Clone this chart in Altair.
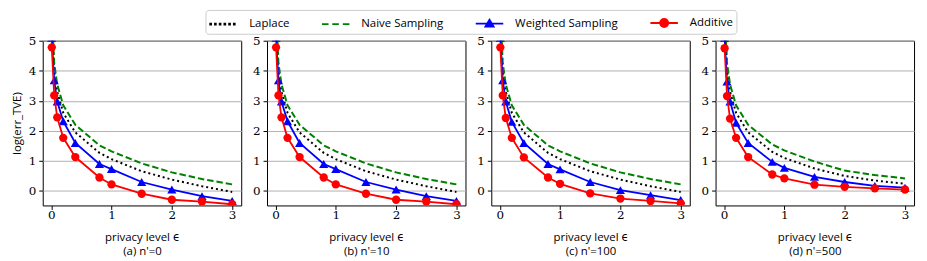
import altair as alt
import pandas as pd

eps = [0.01, 0.05, 0.1, 0.2, 0.4, 0.8, 1.0, 1.5, 2.0, 2.5, 3.0]
series_names = ["Laplace", "Naive Sampling", "Weighted Sampling", "Additive"]
series_colors = ["#000000", "#008000", "#0000ff", "#ff0000"]
panel_titles = ["(a) n'=0", "(b) n'=10", "(c) n'=100", "(d) n'=500"]
x_ticks = [0, 1, 2, 3]
y_ticks = [0, 1, 2, 3, 4, 5]

laplace_a = [5.75, 4.0, 3.3, 2.6, 1.95, 1.27, 1.06, 0.66, 0.38, 0.16, -0.03]
naive_a = [6.0, 4.25, 3.55, 2.85, 2.2, 1.52, 1.32, 0.92, 0.62, 0.40, 0.22]
weighted_a = [5.1, 3.68, 2.98, 2.32, 1.60, 0.90, 0.73, 0.30, 0.05, -0.17, -0.33]
additive_a = [4.78, 3.18, 2.45, 1.77, 1.13, 0.45, 0.22, -0.09, -0.29, -0.35, -0.44]

laplace_b = [5.75, 4.0, 3.3, 2.6, 1.95, 1.27, 1.06, 0.66, 0.38, 0.16, -0.03]
naive_b = [6.0, 4.25, 3.55, 2.85, 2.2, 1.52, 1.32, 0.92, 0.62, 0.40, 0.22]
weighted_b = [5.1, 3.68, 2.98, 2.32, 1.60, 0.90, 0.73, 0.30, 0.05, -0.17, -0.33]
additive_b = [4.78, 3.18, 2.45, 1.77, 1.13, 0.45, 0.22, -0.09, -0.29, -0.35, -0.44]

laplace_c = [5.75, 4.0, 3.3, 2.6, 1.95, 1.27, 1.06, 0.66, 0.38, 0.16, -0.03]
naive_c = [6.0, 4.25, 3.55, 2.85, 2.2, 1.52, 1.32, 0.92, 0.62, 0.40, 0.22]
weighted_c = [5.1, 3.68, 2.98, 2.30, 1.60, 0.90, 0.72, 0.30, 0.03, -0.14, -0.30]
additive_c = [4.78, 3.18, 2.43, 1.77, 1.12, 0.45, 0.24, -0.08, -0.25, -0.33, -0.41]

laplace_d = [5.75, 4.0, 3.3, 2.6, 1.95, 1.30, 1.10, 0.75, 0.50, 0.35, 0.24]
naive_d = [6.0, 4.25, 3.55, 2.85, 2.2, 1.55, 1.35, 0.98, 0.68, 0.53, 0.42]
weighted_d = [5.1, 3.64, 2.98, 2.27, 1.60, 0.97, 0.77, 0.47, 0.30, 0.17, 0.11]
additive_d = [4.75, 3.16, 2.41, 1.77, 1.13, 0.55, 0.42, 0.21, 0.14, 0.09, 0.05]

panels_data = [
    [laplace_a, naive_a, weighted_a, additive_a],
    [laplace_b, naive_b, weighted_b, additive_b],
    [laplace_c, naive_c, weighted_c, additive_c],
    [laplace_d, naive_d, weighted_d, additive_d],
]

# legend glyphs (line sample + marker), in symbol unit space
dots = "".join(
    f"M{c - 0.05:.2f},-0.05H{c + 0.05:.2f}V0.05H{c - 0.05:.2f}Z"
    for c in [-0.9, -0.35, 0.2, 0.75, 1.3, 1.85]
)
legend_paths = [
    dots,
    "M-1,0H-0.23M0.2,0H0.97M1.43,0H2.2",
    "M-1,0H2.2M0.6,-0.45L1.08,0.35L0.12,0.35Z",
    "M-1,0H2.2M1.07,0A0.47,0.47,0,1,1,0.13,0A0.47,0.47,0,1,1,1.07,0Z",
]

SERIF = "DejaVu Serif, Liberation Serif, serif"
SANS = "Open Sans, DejaVu Sans, sans-serif"


def make_panel(values, title, first):
    rows = []
    for name, vals in zip(series_names, values):
        for e, v in zip(eps, vals):
            rows.append({"eps": e, "val": v, "series": name})
    df = pd.DataFrame(rows)
    base = alt.Chart(df)
    x = alt.X(
        "eps:Q",
        scale=alt.Scale(domain=[-0.14, 3.15], nice=False, zero=False),
        axis=alt.Axis(
            values=x_ticks, title=["privacy level ϵ", title], grid=False,
            labelFont=SERIF, labelFontSize=12, labelPadding=0, tickSize=4,
            titleFont=SANS, titleFontSize=11.5, titleFontWeight="normal",
            titlePadding=11, titleLineHeight=14, labelColor="black", titleColor="black",
            tickColor="black", domain=False,
        ),
    )
    y = alt.Y(
        "val:Q",
        scale=alt.Scale(domain=[-0.48, 5], nice=False, zero=False),
        axis=alt.Axis(
            values=y_ticks, title="log(err_TVE)" if first else None, grid=True,
            gridColor="#b0b0b0", gridWidth=1, labelFont=SERIF, labelFontSize=12,
            labelPadding=3, tickSize=4, titleFont=SANS, titleFontSize=11.5,
            titleFontWeight="normal", titlePadding=6, labelColor="black",
            titleColor="black", tickColor="black", domain=False,
        ),
    )
    def sel(name):
        return base.transform_filter(alt.datum.series == name)

    layers = [
        sel("Laplace").mark_line(color="#000000", strokeWidth=2, strokeDash=[2, 3], clip=True).encode(x=x, y=y),
        sel("Naive Sampling").mark_line(color="#008000", strokeWidth=2, strokeDash=[6.5, 3], clip=True).encode(x=x, y=y),
        sel("Weighted Sampling").mark_line(color="#0000ff", strokeWidth=1.8, clip=True).encode(x=x, y=y),
        sel("Weighted Sampling").mark_point(shape="triangle-up", filled=True, color="#0000ff", size=85, opacity=1, clip=True).encode(x=x, y=y),
        sel("Additive").mark_line(color="#ff0000", strokeWidth=1.8, clip=True).encode(x=x, y=y),
        sel("Additive").mark_circle(color="#ff0000", size=70, opacity=1, clip=True).encode(x=x, y=y),
    ]
    if first:
        leg = alt.Legend(
            title=None, orient="none", legendX=164, legendY=-31, direction="horizontal",
            columns=4, symbolSize=300, symbolStrokeWidth=1.8, symbolOpacity=1,
            labelOffset=21, columnPadding=28, padding=3, strokeColor="#cccccc",
            cornerRadius=3, fillColor="white", labelFont=SANS, labelFontSize=11.5,
            labelColor="black",
        )
        layers.append(
            base.mark_point(filled=True, opacity=0).encode(
                x=x, y=y,
                fill=alt.Fill("series:N", scale=alt.Scale(domain=series_names, range=series_colors), legend=leg),
                stroke=alt.Stroke("series:N", scale=alt.Scale(domain=series_names, range=series_colors), legend=leg),
                shape=alt.Shape("series:N", scale=alt.Scale(domain=series_names, range=legend_paths), legend=leg),
            )
        )
    return alt.layer(*layers).properties(width=200, height=166)


panels = [make_panel(v, t, i == 0) for i, (v, t) in enumerate(zip(panels_data, panel_titles))]

chart = alt.hconcat(*panels, spacing=26, bounds="flush").properties(
    padding={"left": 2, "top": 0, "right": 4, "bottom": 2}
).configure_view(stroke="black", strokeWidth=1)

chart.save("out.html", embed_options={"renderer": "svg", "actions": False})
